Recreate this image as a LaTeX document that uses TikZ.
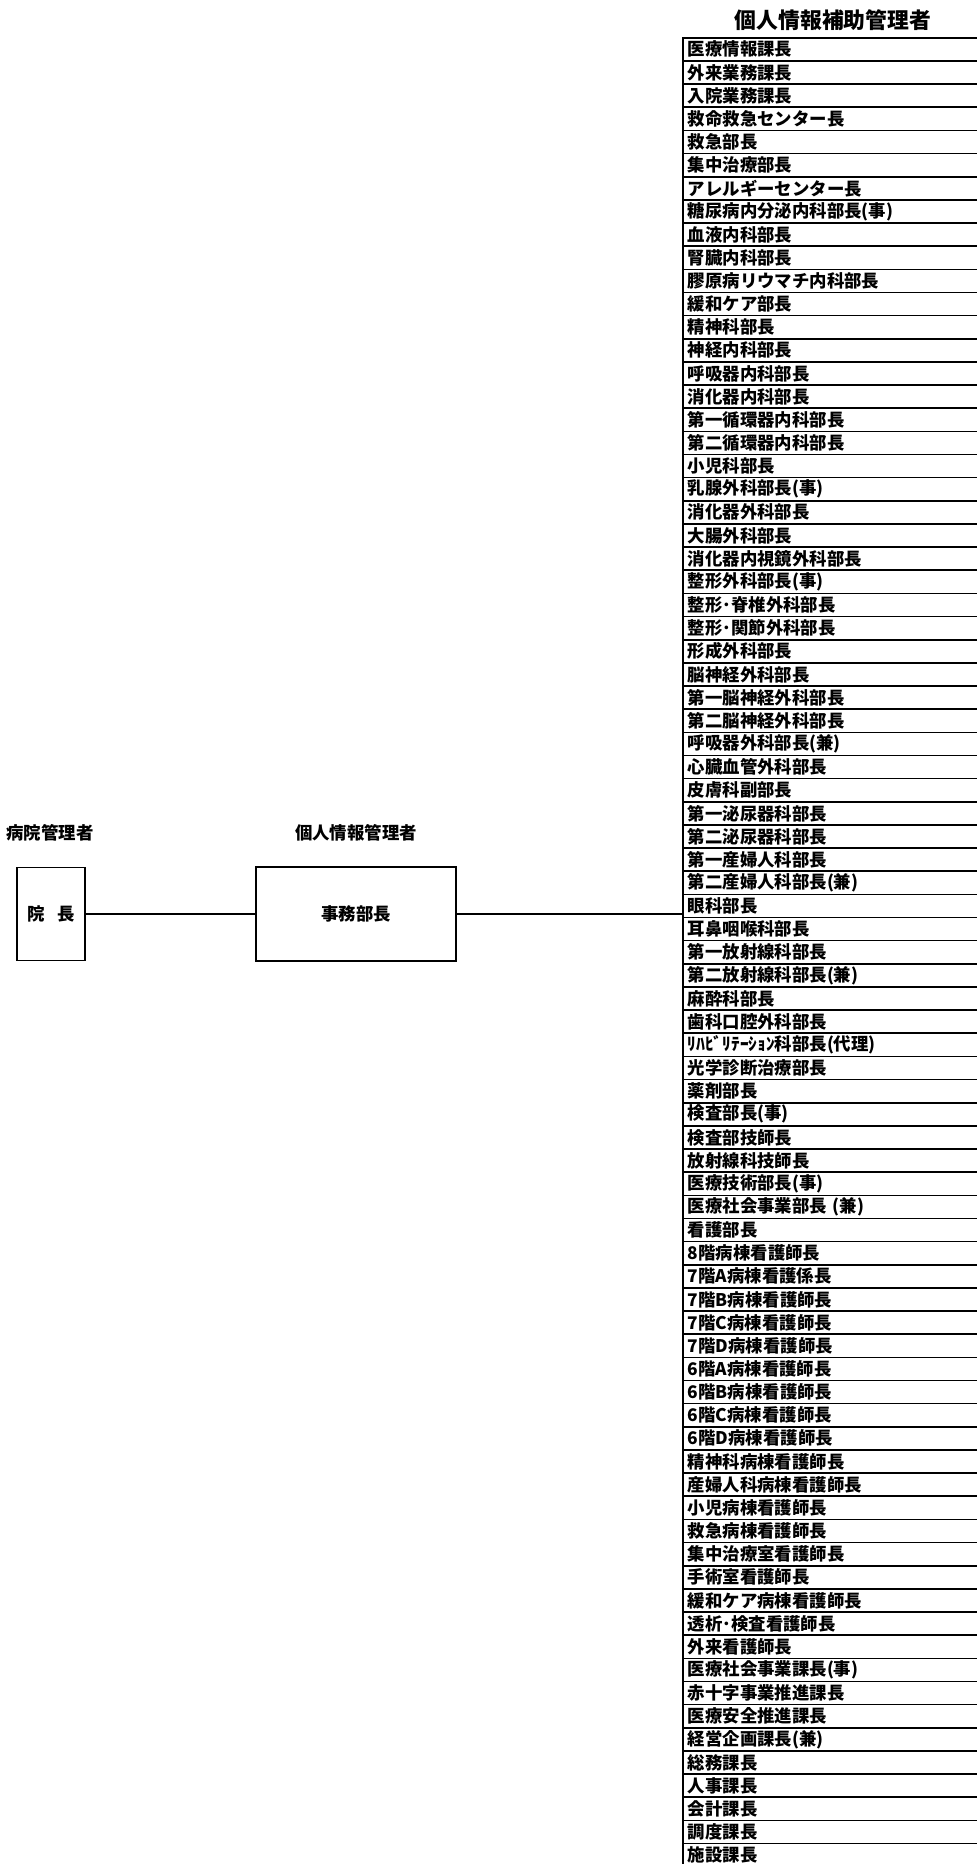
\documentclass[tikz,border=0pt]{standalone}
\usepackage{fontspec}
\setmainfont{Noto Sans CJK JP}
\begin{document}
\begin{tikzpicture}[x=0.5pt,y=-0.5pt,
    lbl/.style={font=\fontsize{8.7pt}{10pt}\selectfont\bfseries},
    rolebox/.style={draw,line width=0.6pt,font=\fontsize{8.7pt}{10pt}\selectfont\bfseries},
    rowbox/.style={draw,line width=0.8pt,anchor=north west,minimum height=11.575pt,
      text width=143pt,inner xsep=2.5pt,inner ysep=0pt,align=left,
      font=\fontsize{8.7pt}{10pt}\selectfont\bfseries}]
      \useasboundingbox (0,0) rectangle (977,1864);
      \node[lbl] (hosplbl) at (50,833) {病院管理者};
      \node[lbl] (infolbl) at (356,833) {個人情報管理者};
      \node[font=\fontsize{10.9pt}{12pt}\selectfont\bfseries] (sublbl) at (833,20) {個人情報補助管理者};
      \node[rolebox,minimum width=34pt,minimum height=46.5pt] (inchou) at (51,914) {院\hspace{0.75em}長};
      \node[rolebox,minimum width=100pt,minimum height=47pt] (jimu) at (356,914) {事務部長};
      \foreach \name [count=\i] in {医療情報課長,外来業務課長,入院業務課長,救命救急センター長,
        救急部長,集中治療部長,アレルギーセンター長,糖尿病内分泌内科部長(事),血液内科部長,
        腎臓内科部長,膠原病リウマチ内科部長,緩和ケア部長,精神科部長,神経内科部長,
        呼吸器内科部長,消化器内科部長,第一循環器内科部長,第二循環器内科部長,小児科部長,
        乳腺外科部長(事),消化器外科部長,大腸外科部長,消化器内視鏡外科部長,整形外科部長(事),
        整形･脊椎外科部長,整形･関節外科部長,形成外科部長,脳神経外科部長,第一脳神経外科部長,
        第二脳神経外科部長,呼吸器外科部長(兼),心臓血管外科部長,皮膚科副部長,第一泌尿器科部長,
        第二泌尿器科部長,第一産婦人科部長,第二産婦人科部長(兼),眼科部長,耳鼻咽喉科部長,
        第一放射線科部長,第二放射線科部長(兼),麻酔科部長,歯科口腔外科部長,
        ﾘﾊﾋﾞﾘﾃｰｼｮﾝ科部長(代理),光学診断治療部長,薬剤部長,検査部長(事),検査部技師長,
        放射線科技師長,医療技術部長(事),医療社会事業部長 (兼),看護部長,8階病棟看護師長,
        7階A病棟看護係長,7階B病棟看護師長,7階C病棟看護師長,7階D病棟看護師長,6階A病棟看護師長,
        6階B病棟看護師長,6階C病棟看護師長,6階D病棟看護師長,精神科病棟看護師長,
        産婦人科病棟看護師長,小児病棟看護師長,救急病棟看護師長,集中治療室看護師長,
        手術室看護師長,緩和ケア病棟看護師長,透析･検査看護師長,外来看護師長,
        医療社会事業課長(事),赤十字事業推進課長,医療安全推進課長,経営企画課長(兼),
        総務課長,人事課長,会計課長,調度課長,施設課長}
        \node[rowbox] (r\i) at (682,{37+(\i-1)*23.15}) {\name};
      \draw[line width=0.6pt] (inchou.east) -- (jimu.west);
      \draw[line width=0.6pt] (jimu.east) -- (jimu.east -| r1.west);
\end{tikzpicture}
\end{document}
